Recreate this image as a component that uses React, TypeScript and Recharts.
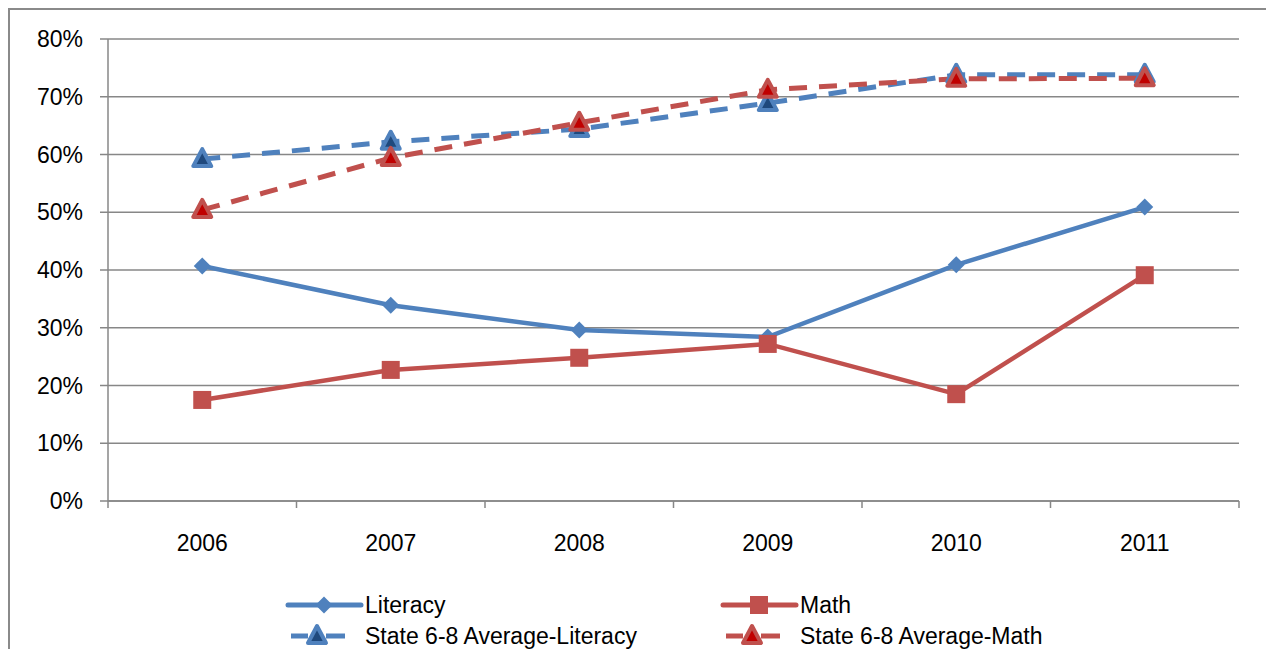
import React from 'react';
import { LineChart, Line, XAxis, YAxis, CartesianGrid } from 'recharts';

// Literacy / Math proficiency vs state 6-8 averages, 2006-2011 (percent)
const years = ['2006', '2007', '2008', '2009', '2010', '2011'];
const literacy = [40.7, 33.9, 29.6, 28.4, 40.9, 50.9];
const math = [17.5, 22.7, 24.8, 27.2, 18.5, 39.1];
const stateLiteracy = [59.2, 62.2, 64.4, 68.9, 73.8, 73.8];
const stateMath = [50.4, 59.4, 65.5, 71.2, 73.1, 73.2];
const yTicks = [0, 10, 20, 30, 40, 50, 60, 70, 80];

const FONT = '"Liberation Sans", Arial, sans-serif';
const GRID = '#878787';
const BLUE = '#4F81BD';
const RED = '#C0504D';

const CHART_W = 1258;
const CHART_H = 641;
const MARGIN = { top: 31, right: 27, bottom: 88, left: 0 };
const Y_AXIS_W = 100;
const X_AXIS_H = 60;
const PLOT_W = CHART_W - MARGIN.left - MARGIN.right - Y_AXIS_W;
const AXIS_Y = CHART_H - MARGIN.bottom - X_AXIS_H;
const HALF_BAND = PLOT_W / years.length / 2;

const data = years.map((year, i) => ({
  year,
  literacy: literacy[i],
  math: math[i],
  stateLiteracy: stateLiteracy[i],
  stateMath: stateMath[i],
}));

// ---- markers ----
function Diamond({ cx, cy, r = 8.5, color }: any) {
  return (
    <polygon
      points={`${cx},${cy - r} ${cx + r},${cy} ${cx},${cy + r} ${cx - r},${cy}`}
      fill={color}
    />
  );
}

function Square({ cx, cy, r = 9, color }: any) {
  return <rect x={cx - r} y={cy - r} width={r * 2} height={r * 2} fill={color} />;
}

function Triangle({ cx, cy, color, fill }: any) {
  return (
    <polygon
      points={`${cx},${cy - 10} ${cx + 9},${cy + 7} ${cx - 9},${cy + 7}`}
      fill={fill}
      stroke={color}
      strokeWidth={4}
      strokeLinejoin="round"
    />
  );
}

const series = [
  { key: 'literacy', name: 'Literacy', color: BLUE, dashed: false, marker: 'diamond', fill: BLUE },
  { key: 'math', name: 'Math', color: RED, dashed: false, marker: 'square', fill: RED },
  { key: 'stateLiteracy', name: 'State 6-8 Average-Literacy', color: BLUE, dashed: true, marker: 'triangle', fill: '#1F497D' },
  { key: 'stateMath', name: 'State 6-8 Average-Math', color: RED, dashed: true, marker: 'triangle', fill: '#C00000' },
];

function renderMarker(s: any, cx: number, cy: number, key?: any) {
  if (s.marker === 'diamond') return <Diamond key={key} cx={cx} cy={cy} color={s.color} />;
  if (s.marker === 'square') return <Square key={key} cx={cx} cy={cy} color={s.color} />;
  return <Triangle key={key} cx={cx} cy={cy} color={s.color} fill={s.fill} />;
}

// year label centred in its band, small tick marks on band edges
function YearTick({ x, y, payload, index }: any) {
  const last = index === years.length - 1;
  return (
    <g>
      <line x1={x - HALF_BAND} x2={x - HALF_BAND} y1={AXIS_Y} y2={AXIS_Y + 7} stroke={GRID} strokeWidth={1.5} />
      {last && (
        <line x1={x + HALF_BAND} x2={x + HALF_BAND} y1={AXIS_Y} y2={AXIS_Y + 7} stroke={GRID} strokeWidth={1.5} />
      )}
      <text x={x} y={y} dy="0.71em" textAnchor="middle" fontSize={23} fontFamily={FONT} fill="#000">
        {payload.value}
      </text>
    </g>
  );
}

// legend + outer frame, drawn over the chart
function Overlay() {
  const cols = [280, 715];
  const rows = [597, 628];
  return (
    <svg width={CHART_W} height={CHART_H} style={{ position: 'absolute', left: 0, top: 0, pointerEvents: 'none' }}>
      <line x1={1} x2={1} y1={0} y2={CHART_H} stroke="#8a8a8a" strokeWidth={2} />
      <line x1={0} x2={CHART_W} y1={1} y2={1} stroke="#8a8a8a" strokeWidth={2} />
      {series.map((s, i) => {
        const x = cols[i % 2];
        const y = rows[Math.floor(i / 2)];
        const mid = x + (s.dashed ? 29 : 36);
        return (
          <g key={s.key}>
            {s.dashed ? (
              <g>
                <line x1={x + 3} x2={x + 20} y1={y} y2={y} stroke={s.color} strokeWidth={5} />
                <line x1={x + 38} x2={x + 57} y1={y} y2={y} stroke={s.color} strokeWidth={5} />
              </g>
            ) : (
              <line x1={x} x2={x + 73} y1={y} y2={y} stroke={s.color} strokeWidth={5} strokeLinecap="round" />
            )}
            {renderMarker(s, mid, y)}
            <text x={x + 77} y={y} dy="0.355em" fontSize={23} fontFamily={FONT} fill="#000">
              {s.name}
            </text>
          </g>
        );
      })}
    </svg>
  );
}

export default function App() {
  return (
    <div
      style={{
        position: 'fixed',
        left: 8,
        top: 8,
        width: CHART_W,
        height: CHART_H,
        overflow: 'hidden',
        background: '#fff',
      }}
    >
      <div style={{ position: 'absolute', left: 0, top: 0 }}>
        <LineChart width={CHART_W} height={CHART_H} data={data} margin={MARGIN}>
          <CartesianGrid vertical={false} stroke={GRID} strokeWidth={1.5} />
          <XAxis
            dataKey="year"
            height={X_AXIS_H}
            padding={{ left: HALF_BAND, right: HALF_BAND }}
            tickSize={0}
            tickMargin={34}
            tickLine={false}
            axisLine={{ stroke: GRID, strokeWidth: 1.5 }}
            tick={<YearTick />}
            interval={0}
          />
          <YAxis
            width={Y_AXIS_W}
            domain={[0, 80]}
            ticks={yTicks}
            tickFormatter={(v: number) => `${v}%`}
            tickSize={8}
            tickMargin={17}
            tickLine={{ stroke: GRID, strokeWidth: 1.5 }}
            axisLine={{ stroke: GRID, strokeWidth: 1.5 }}
            tick={{ fontSize: 23, fill: '#000', fontFamily: FONT }}
            interval={0}
          />
          {series.map((s) => (
            <Line
              key={s.key}
              dataKey={s.key}
              name={s.name}
              type="linear"
              stroke={s.color}
              strokeWidth={s.dashed ? 5 : 4.5}
              strokeDasharray={s.dashed ? '18 12' : undefined}
              dot={(p: any) => renderMarker(s, p.cx, p.cy, `${s.key}-${p.index}`)}
              activeDot={false}
              isAnimationActive={false}
            />
          ))}
        </LineChart>
      </div>
      <Overlay />
    </div>
  );
}
